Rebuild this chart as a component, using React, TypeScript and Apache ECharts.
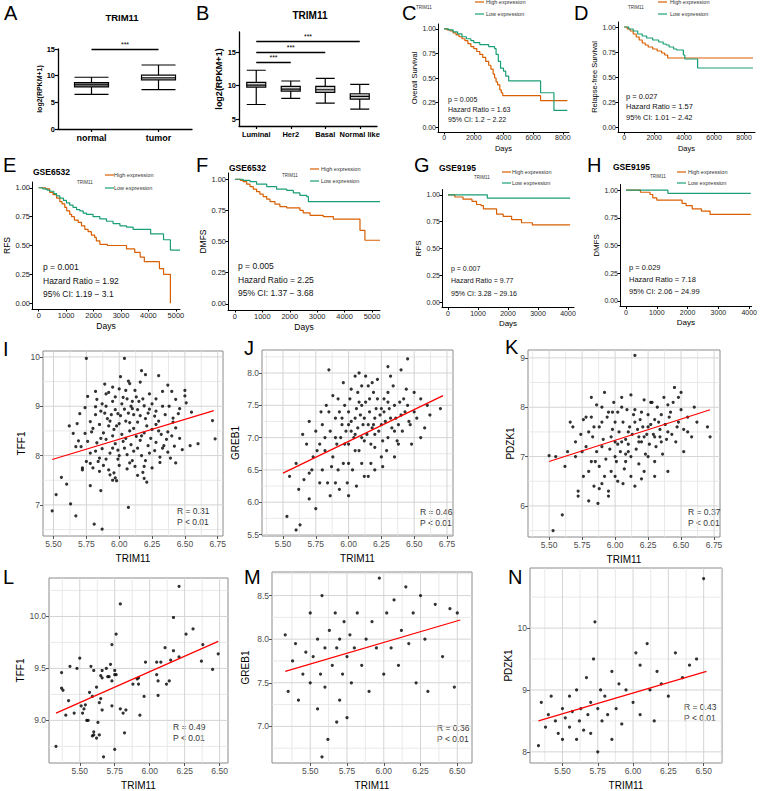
import React, { useEffect, useRef } from "react";
import * as echarts from "echarts";

const FONT = "'Liberation Sans', Arial, Helvetica, sans-serif";
const ORANGE = "#D95F02";
const GREEN = "#1B9E77";

// ---------- A / B box plots ----------
const boxACategories = ["normal", "tumor"];
const boxAValues = [
  [6.5, 7.9, 8.3, 8.7, 9.7],
  [7.4, 9.2, 9.6, 10.1, 12.0],
];
const boxAFill = ["#8c8c8c", "#ffffff"];
const sigA = [["normal", "tumor", 15]];

const boxBCategories = ["Luminal", "Her2", "Basal", "Normal like"];
const boxBValues = [
  [7.2, 9.8, 10.1, 10.5, 12.3],
  [8.1, 9.2, 9.5, 9.9, 10.7],
  [7.4, 9.0, 9.4, 9.9, 11.1],
  [6.5, 8.0, 8.4, 8.8, 10.2],
];
const sigB = [
  ["Luminal", "Her2", 13.5],
  ["Luminal", "Basal", 15.0],
  ["Luminal", "Normal like", 16.6],
];

// ---------- survival curves [day, survival] ----------
const survCHigh = [[0,1],[200,0.99],[400,0.98],[600,0.96],[800,0.94],[1000,0.92],[1200,0.9],[1400,0.88],[1600,0.85],[1800,0.82],[2000,0.8],[2200,0.77],[2400,0.74],[2600,0.71],[2800,0.67],[3000,0.63],[3150,0.59],[3300,0.54],[3400,0.5],[3500,0.46],[3600,0.43],[3750,0.38],[3850,0.35],[3950,0.32],[6500,0.27],[8300,0.27]];
const survCLow = [[0,1],[300,0.99],[600,0.97],[900,0.95],[1200,0.92],[1500,0.9],[1800,0.88],[2000,0.86],[2400,0.84],[3000,0.82],[3400,0.8],[3500,0.74],[3650,0.67],[3800,0.6],[4000,0.57],[4150,0.52],[4350,0.47],[6500,0.35],[7400,0.17],[8300,0.17]];
const survDHigh = [[0,1],[200,0.98],[400,0.96],[600,0.93],[800,0.9],[1000,0.87],[1200,0.84],[1400,0.82],[1600,0.8],[1900,0.78],[2200,0.76],[2500,0.74],[2700,0.72],[2900,0.69],[8600,0.69]];
const survDLow = [[0,1],[300,0.98],[600,0.96],[900,0.93],[1200,0.91],[1500,0.89],[1900,0.87],[2300,0.85],[2600,0.83],[2800,0.82],[3000,0.8],[3300,0.78],[3500,0.77],[3950,0.72],[4050,0.68],[4900,0.59],[8600,0.59]];
const survEHigh = [[0,1],[250,0.99],[400,0.96],[520,0.94],[650,0.91],[770,0.88],[850,0.86],[950,0.83],[1020,0.8],[1130,0.77],[1200,0.75],[1300,0.72],[1440,0.7],[1560,0.67],[1680,0.64],[1800,0.62],[1920,0.59],[2040,0.57],[2100,0.54],[2230,0.51],[2500,0.5],[3200,0.47],[3500,0.44],[3700,0.4],[3850,0.36],[4400,0.3],[4550,0.25],[4800,0]];
const survELow = [[0,1],[150,0.99],[300,0.98],[400,0.97],[550,0.95],[650,0.93],[770,0.91],[900,0.89],[1010,0.87],[1130,0.85],[1250,0.83],[1380,0.81],[1500,0.8],[1620,0.78],[1740,0.77],[1980,0.75],[2230,0.73],[2470,0.71],[2710,0.69],[2960,0.67],[3200,0.66],[3440,0.64],[4080,0.6],[4550,0.55],[4800,0.46],[5150,0.46]];
const survFHigh = [[0,1],[200,0.99],[300,0.98],[430,0.96],[550,0.94],[670,0.92],[790,0.9],[910,0.88],[1030,0.86],[1160,0.84],[1280,0.82],[1460,0.8],[1640,0.78],[1890,0.77],[2370,0.75],[2490,0.73],[2740,0.71],[3220,0.7],[3590,0.68],[4560,0.59],[4740,0.51],[5290,0.51]];
const survFLow = [[0,1],[300,0.99],[550,0.98],[790,0.96],[1160,0.94],[1520,0.92],[1890,0.91],[2130,0.89],[2370,0.87],[2620,0.86],[2680,0.82],[5290,0.82]];
const survGHigh = [[0,1],[230,0.98],[500,0.96],[800,0.94],[950,0.91],[1100,0.9],[1180,0.87],[1620,0.82],[1840,0.8],[2120,0.77],[2450,0.74],[2810,0.72],[4070,0.72]];
const survGLow = [[0,1],[1310,0.97],[4070,0.97]];
const survHHigh = [[0,1],[470,0.98],[780,0.96],[870,0.93],[1000,0.91],[1820,0.88],[1950,0.86],[2150,0.83],[2450,0.81],[2730,0.78],[4050,0.78]];
const survHLow = [[0,1],[1360,0.97],[4050,0.97]];

const statsC = ["p = 0.005", "Hazard Ratio = 1.63", "95% CI: 1.2 \u2212 2.22"];
const statsD = ["p = 0.027", "Hazard Ratio = 1.57", "95% CI: 1.01 \u2212 2.42"];
const statsE = ["p = 0.001", "Hazard Ratio = 1.92", "95% CI: 1.19 \u2212 3.1"];
const statsF = ["p = 0.005", "Hazard Ratio = 2.25", "95% CI: 1.37 \u2212 3.68"];
const statsG = ["p = 0.007", "Hazard Ratio = 9.77", "95% CI: 3.28 \u2212 29.16"];
const statsH = ["p = 0.029", "Hazard Ratio = 7.18", "95% CI: 2.06 \u2212 24.99"];

const survYTicks = [0, 0.25, 0.5, 0.75, 1];
const survXTicksLong = [0, 2000, 4000, 6000, 8000];
const survXTicksE = [0, 1000, 2000, 3000, 4000, 5000];
const survXTicksG = [0, 1000, 2000, 3000, 4000];

// ---------- scatter plots [TRIM11, gene] ----------
const scatterI = [[5.75,9.97],[6.04,9.97],[6.17,9.72],[6.2,9.64],[6.3,9.62],[6.07,9.51],[6.08,9.46],[6.16,9.49],[6.37,9.43],[5.95,9.39],[5.92,9.28],[6.0,9.35],[6.05,9.32],[6.12,9.32],[6.33,9.3],[6.5,9.32],[6.5,9.21],[5.97,9.19],[6.03,9.18],[6.06,9.15],[6.13,9.19],[6.18,9.15],[5.83,9.14],[5.74,8.97],[5.82,8.99],[5.87,9.05],[5.9,9.0],[5.97,8.93],[6.04,8.94],[6.09,9.0],[6.14,8.93],[6.19,9.01],[6.23,8.94],[6.28,8.9],[6.33,9.0],[6.43,9.14],[6.51,9.07],[6.55,8.88],[5.82,8.83],[5.89,8.86],[5.94,8.83],[6.01,8.81],[6.07,8.86],[6.11,8.83],[6.16,8.81],[6.22,8.86],[6.27,8.8],[6.35,8.83],[6.41,8.76],[5.68,8.65],[6.71,8.71],[5.78,8.69],[5.85,8.63],[5.93,8.7],[5.98,8.6],[6.08,8.67],[6.14,8.68],[6.21,8.6],[6.28,8.63],[6.41,8.68],[5.79,8.48],[5.88,8.46],[5.96,8.53],[6.02,8.43],[6.08,8.5],[6.13,8.39],[6.19,8.46],[6.25,8.53],[6.32,8.43],[6.37,8.48],[6.43,8.56],[5.76,8.29],[5.83,8.26],[5.9,8.33],[5.97,8.24],[6.03,8.29],[6.09,8.22],[6.16,8.31],[6.22,8.2],[6.28,8.27],[6.36,8.33],[6.42,8.19],[6.48,8.12],[6.54,8.2],[6.6,8.24],[6.73,8.34],[5.67,8.18],[5.71,8.18],[5.82,8.09],[5.87,8.14],[5.93,8.05],[5.99,8.11],[6.06,8.02],[6.11,8.09],[6.17,8.0],[6.23,8.05],[6.31,7.97],[6.37,8.07],[6.43,7.85],[5.75,7.88],[5.84,7.88],[5.9,7.93],[5.99,7.93],[6.06,7.73],[6.12,7.78],[6.19,7.78],[6.31,7.86],[5.72,7.75],[5.72,7.71],[5.78,7.84],[5.85,7.68],[5.92,7.71],[5.93,7.61],[5.95,7.5],[5.98,7.49],[6.18,7.66],[6.19,7.54],[6.21,7.46],[5.56,7.56],[5.6,7.42],[5.78,7.39],[5.86,7.29],[5.52,7.21],[5.63,7.02],[6.07,6.95],[5.49,6.88],[5.67,6.78],[5.81,6.61],[5.87,6.51],[5.86,8.9],[5.91,8.75],[5.95,9.1],[5.99,8.85],[6.02,9.05],[6.05,8.7],[6.1,8.95],[6.15,9.1],[6.2,8.75],[6.25,9.05],[6.3,8.7],[6.38,9.0],[6.45,8.85],[5.8,8.55],[5.86,8.35],[5.92,8.6],[5.95,8.4],[6.0,8.65],[6.05,8.35],[6.11,8.55],[6.17,8.4],[6.24,8.35],[6.3,8.5],[6.34,8.2],[6.4,8.4],[6.46,8.35],[5.78,8.05],[5.85,7.95],[5.95,8.15],[6.0,8.0],[6.04,8.15],[6.1,7.9],[6.14,8.15],[6.2,7.9],[6.27,8.1],[6.33,8.15],[6.39,7.95],[5.69,8.3],[5.74,8.45],[5.8,7.75],[5.88,7.8],[5.96,7.65],[5.97,7.55],[6.0,7.8],[6.08,7.85],[6.14,7.6],[6.25,7.75],[5.65,8.45],[5.62,8.6],[5.7,8.85],[5.76,9.2],[5.82,9.3],[5.89,9.45],[6.01,9.6],[6.1,9.1],[6.23,9.25],[6.4,9.3],[5.9,9.25],[6.28,9.15],[6.46,8.95]];
const scatterJ = [[5.55,6.4],[5.6,6.6],[5.62,6.2],[5.68,6.9],[5.7,6.45],[5.73,6.7],[5.75,7.1],[5.78,6.3],[5.8,7.2],[5.82,6.8],[5.85,7.4],[5.87,6.55],[5.9,7.0],[5.92,7.6],[5.93,6.2],[5.95,7.2],[5.97,6.9],[6.0,7.4],[6.0,6.6],[6.02,7.1],[6.05,7.3],[6.05,6.8],[6.07,7.7],[6.1,7.0],[6.1,7.5],[6.12,6.4],[6.15,7.2],[6.15,7.8],[6.17,6.9],[6.2,7.3],[6.2,7.05],[6.22,7.6],[6.25,7.2],[6.25,6.7],[6.27,7.4],[6.3,7.0],[6.3,7.7],[6.32,7.3],[6.35,7.1],[6.35,7.5],[6.38,6.9],[6.4,7.35],[6.42,7.6],[6.45,8.22],[6.47,7.2],[6.5,7.4],[6.55,7.0],[6.6,7.5],[6.7,7.45],[5.85,8.05],[6.3,8.1],[6.05,7.95],[5.9,6.3],[6.0,6.1],[6.2,6.5],[5.7,6.05],[5.75,5.9],[5.53,5.78],[5.6,5.57],[5.63,5.65],[5.78,6.9],[5.8,6.5],[5.82,7.0],[5.84,6.3],[5.86,7.1],[5.88,6.7],[5.9,7.3],[5.91,6.9],[5.93,7.4],[5.94,7.0],[5.96,6.6],[5.97,7.5],[5.98,7.1],[6.0,6.9],[6.01,7.6],[6.02,7.25],[6.03,6.5],[6.04,7.0],[6.06,7.45],[6.07,7.15],[6.08,6.8],[6.09,7.35],[6.1,7.8],[6.11,7.2],[6.12,6.95],[6.13,7.55],[6.14,7.05],[6.16,7.4],[6.17,6.6],[6.18,7.15],[6.19,7.7],[6.2,6.85],[6.21,7.45],[6.23,7.1],[6.24,7.35],[6.26,6.95],[6.27,7.6],[6.28,7.25],[6.29,6.8],[6.31,7.45],[6.33,7.15],[6.34,7.8],[6.36,7.3],[6.37,6.95],[6.39,7.55],[6.41,7.1],[6.43,7.4],[6.44,7.75],[6.46,7.25],[6.48,6.9],[6.52,7.3],[6.55,7.6],[6.58,7.15],[6.62,7.35],[5.96,7.85],[6.08,8.0],[6.22,7.9],[6.4,8.05],[6.13,7.95],[5.99,6.3],[6.06,6.25],[6.15,6.4],[5.86,6.1],[5.92,6.5],[6.1,6.6],[6.26,6.55],[6.35,6.7],[5.72,6.5],[5.76,6.8],[5.66,6.35],[5.7,7.25],[5.65,7.05],[6.02,7.75],[6.18,7.85],[6.32,7.95],[5.88,7.65],[5.83,7.5],[5.79,7.4],[6.05,7.05],[6.12,7.3],[6.19,7.2],[6.25,7.45],[6.0,7.2],[5.95,7.3],[6.08,7.55],[6.16,7.6],[6.3,7.55],[6.38,7.2],[6.45,7.5],[6.5,7.7]];
const scatterK = [[5.5,7.02],[5.55,7.0],[5.53,5.5],[5.6,5.82],[5.62,6.8],[5.68,7.6],[5.7,7.3],[5.72,6.3],[5.72,6.2],[5.75,7.1],[5.78,7.8],[5.8,6.7],[5.8,6.1],[5.83,7.4],[5.85,6.9],[5.87,6.05],[5.88,7.6],[5.9,7.2],[5.92,6.6],[5.95,7.9],[5.95,6.3],[5.97,7.4],[6.0,7.0],[6.0,7.7],[6.02,6.5],[6.05,7.3],[6.05,8.0],[6.08,6.9],[6.1,7.5],[6.1,7.1],[6.12,6.6],[6.15,9.05],[6.15,7.7],[6.18,7.3],[6.2,6.55],[6.2,7.9],[6.22,7.4],[6.25,7.0],[6.25,7.6],[6.28,8.1],[6.3,7.4],[6.3,6.9],[6.33,7.7],[6.35,7.3],[6.37,8.2],[6.4,7.5],[6.4,6.7],[6.42,7.9],[6.45,8.4],[6.47,7.6],[6.5,7.95],[6.52,7.1],[6.55,7.5],[6.6,8.0],[6.7,7.6],[6.72,7.4],[5.82,8.2],[5.9,8.0],[5.78,7.2],[5.8,7.5],[5.82,6.9],[5.84,7.6],[5.86,7.1],[5.88,6.8],[5.9,7.7],[5.91,7.35],[5.93,6.95],[5.94,7.8],[5.96,7.15],[5.97,6.7],[5.98,7.55],[6.0,7.3],[6.01,6.9],[6.02,7.9],[6.03,7.5],[6.04,7.1],[6.06,7.7],[6.07,6.75],[6.08,7.35],[6.09,7.95],[6.1,7.25],[6.11,7.6],[6.12,7.0],[6.13,7.45],[6.14,7.85],[6.16,7.15],[6.17,7.55],[6.18,6.85],[6.19,7.75],[6.2,7.3],[6.21,7.6],[6.23,7.05],[6.24,7.45],[6.25,7.85],[6.26,7.25],[6.27,7.65],[6.29,7.45],[6.3,7.75],[6.31,7.2],[6.32,8.0],[6.34,7.55],[6.35,7.85],[6.36,7.05],[6.38,7.65],[6.39,7.35],[6.41,7.8],[6.43,7.45],[6.44,8.1],[6.46,7.3],[6.48,7.7],[6.5,8.3],[6.52,7.55],[6.55,7.8],[6.58,7.4],[6.62,7.7],[6.48,8.2],[6.4,8.05],[6.22,8.15],[6.05,8.2],[5.92,8.3],[5.76,7.75],[5.74,7.45],[5.7,7.0],[5.66,7.7],[5.64,7.1],[5.76,6.6],[5.84,6.4],[5.9,6.45],[5.95,6.2],[6.0,6.6],[6.06,6.45],[6.15,6.4],[6.22,6.7],[6.3,6.6],[5.88,6.35],[5.99,8.1],[6.12,8.25],[6.27,8.1],[6.08,7.05],[6.18,7.4],[6.34,7.4],[6.02,7.25],[5.98,7.9],[6.15,7.95],[5.82,7.8],[5.86,8.05]];
const scatterL = [[5.33,8.75],[5.37,9.46],[5.37,9.31],[5.38,9.29],[5.4,9.05],[5.42,9.19],[5.43,9.52],[5.46,9.07],[5.48,9.5],[5.5,9.6],[5.51,9.14],[5.52,9.07],[5.53,9.11],[5.54,9.15],[5.55,9.0],[5.56,9.0],[5.57,9.27],[5.58,9.52],[5.59,9.23],[5.6,9.48],[5.59,8.85],[5.6,8.89],[5.6,8.86],[5.62,9.32],[5.62,8.83],[5.63,8.98],[5.64,8.86],[5.64,9.17],[5.65,9.43],[5.65,9.21],[5.66,9.1],[5.66,9.41],[5.66,9.48],[5.67,8.65],[5.69,9.5],[5.7,9.42],[5.71,9.42],[5.72,9.54],[5.73,9.73],[5.73,9.38],[5.73,9.14],[5.75,8.72],[5.75,9.44],[5.75,9.48],[5.76,9.83],[5.76,9.44],[5.79,10.12],[5.79,9.11],[5.81,9.07],[5.82,8.88],[5.83,9.1],[5.88,9.35],[5.91,9.4],[5.92,9.41],[5.92,9.35],[5.93,9.05],[5.96,9.23],[5.97,9.56],[6.05,9.44],[6.05,9.56],[6.06,9.38],[6.06,9.24],[6.08,9.56],[6.11,9.7],[6.12,9.35],[6.14,9.38],[6.15,9.58],[6.17,9.67],[6.17,9.99],[6.21,9.61],[6.21,10.29],[6.26,9.83],[6.31,9.88],[6.37,9.57],[6.38,9.73],[6.45,9.49],[6.49,9.64]];
const scatterM = [[5.33,8.05],[5.35,7.4],[5.38,7.75],[5.4,7.95],[5.42,7.3],[5.45,7.6],[5.47,7.85],[5.5,7.5],[5.5,8.3],[5.52,7.8],[5.55,7.2],[5.55,8.0],[5.57,7.6],[5.58,8.5],[5.6,7.45],[5.6,7.9],[5.62,6.85],[5.63,8.1],[5.65,7.7],[5.67,8.3],[5.68,7.9],[5.7,7.3],[5.7,8.0],[5.72,7.6],[5.73,8.2],[5.75,7.8],[5.75,7.1],[5.77,8.05],[5.78,7.5],[5.8,7.9],[5.82,8.3],[5.85,7.7],[5.88,8.0],[5.9,7.4],[5.92,8.2],[5.95,7.9],[5.97,8.7],[6.0,7.6],[6.02,8.3],[6.05,7.9],[6.07,8.45],[6.1,7.7],[6.12,8.1],[6.15,8.6],[6.17,7.95],[6.2,8.3],[6.22,7.5],[6.25,8.5],[6.28,8.0],[6.3,7.4],[6.35,8.4],[6.4,7.8],[6.45,8.35],[6.48,7.45],[6.5,8.3],[5.58,6.65],[5.68,7.05]];
const scatterN = [[5.33,8.1],[5.35,8.8],[5.38,8.4],[5.4,8.6],[5.42,8.9],[5.45,8.5],[5.47,8.3],[5.5,8.7],[5.5,8.2],[5.52,8.55],[5.55,8.9],[5.55,8.4],[5.57,8.65],[5.6,8.2],[5.6,9.0],[5.62,8.5],[5.63,8.7],[5.65,8.35],[5.67,9.2],[5.68,8.6],[5.7,8.8],[5.7,8.3],[5.72,9.5],[5.73,10.1],[5.75,8.7],[5.75,8.0],[5.77,9.0],[5.78,8.5],[5.8,8.9],[5.82,8.6],[5.85,9.3],[5.88,8.7],[5.9,9.1],[5.92,8.45],[5.95,9.0],[6.0,8.8],[6.02,9.6],[6.05,9.4],[6.05,8.6],[6.1,9.75],[6.12,9.0],[6.15,8.5],[6.17,9.3],[6.2,9.1],[6.25,8.9],[6.3,9.6],[6.35,9.2],[6.4,9.4],[6.45,9.5],[6.5,10.8],[5.85,8.2]];

// regression line end points
const fitI = [[5.49, 7.92], [6.72, 8.91]];
const fitJ = [[5.5, 6.45], [6.72, 7.65]];
const fitK = [[5.5, 6.9], [6.72, 7.95]];
const fitL = [[5.33, 9.07], [6.49, 9.76]];
const fitM = [[5.33, 7.63], [6.52, 8.22]];
const fitN = [[5.33, 8.5], [6.52, 9.3]];

const rpI = ["R = 0.31", "P < 0.01"];
const rpJ = ["R = 0.46", "P < 0.01"];
const rpK = ["R = 0.37", "P < 0.01"];
const rpL = ["R = 0.49", "P < 0.01"];
const rpM = ["R = 0.36", "P < 0.01"];
const rpN = ["R = 0.43", "P < 0.01"];

const xTicksBig = [5.5, 5.75, 6.0, 6.25, 6.5, 6.75];
const xTicksSmall = [5.5, 5.75, 6.0, 6.25, 6.5];

function buildOption() {
  const grid: any[] = [];
  const xAxis: any[] = [];
  const yAxis: any[] = [];
  const series: any[] = [];
  const graphic: any[] = [];

  const txt = (text: string, x: number, y: number, o: any = {}) => {
    graphic.push({
      type: "text", x, y, silent: true, rotation: o.rot || 0,
      style: {
        text, fontSize: o.size || 10, fontFamily: FONT,
        fontWeight: o.bold ? "bold" : "normal", fill: o.color || "#000",
        textAlign: o.align || "left", textVerticalAlign: o.va || "middle",
      },
    });
  };

  // panel letters
  const letters: any[] = [["A", 4, 13], ["B", 196, 13], ["C", 402, 13], ["D", 574, 13], ["E", 3, 165], ["F", 196, 165], ["G", 414, 165], ["H", 587, 165], ["I", 3, 349], ["J", 244, 348], ["K", 505, 347], ["L", 3, 577], ["M", 244, 577], ["N", 508, 577]];
  letters.forEach(([t, x, y]) => txt(t, x, y, { size: 20 }));

  // ---------- box plots ----------
  const boxPanels = [
    { cats: boxACategories, vals: boxAValues, fills: boxAFill, sig: sigA, grid: { left: 58, top: 49, width: 134, height: 80 }, min: 0, max: 15, ticks: [0, 5, 10, 15], boxW: 34, title: [122, 17, 9.5], yName: 7, catFont: 9, tickFont: 7.5, nameGap: 13 },
    { cats: boxBCategories, vals: boxBValues, fills: boxBValues.map(() => "#d0d0d0"), sig: sigB, grid: { left: 239, top: 32, width: 138, height: 94 }, min: 4, max: 18, ticks: [5, 10, 15], boxW: 19, title: [310, 15, 10], yName: 9, catFont: 7.5, tickFont: 7.5, nameGap: 12 },
  ];
  boxPanels.forEach((p) => {
    const gi = grid.length;
    grid.push(p.grid);
    xAxis.push({
      type: "category", gridIndex: gi, data: p.cats,
      axisLine: { lineStyle: { color: "#000", width: 1.3 } },
      axisTick: { show: true, alignWithLabel: true, length: 3, lineStyle: { color: "#000", width: 1.2 } },
      axisLabel: { fontSize: p.catFont, fontWeight: "bold", color: "#000", margin: 4, fontFamily: FONT, interval: 0 },
    });
    yAxis.push({
      type: "value", gridIndex: gi, min: p.min, max: p.max,
      axisLine: { show: true, onZero: false, lineStyle: { color: "#000", width: 1.3 } },
      axisTick: { show: true, length: 3, customValues: p.ticks, lineStyle: { color: "#000", width: 1.2 } },
      axisLabel: { customValues: p.ticks, fontSize: p.tickFont, fontWeight: "bold", color: "#000", margin: 3, fontFamily: FONT },
      splitLine: { show: false },
      name: "log2(RPKM+1)", nameLocation: "middle", nameGap: p.nameGap, nameRotate: 90,
      nameTextStyle: { fontSize: p.yName, fontWeight: "bold", color: "#000", fontFamily: FONT },
    });
    series.push({
      type: "boxplot", xAxisIndex: gi, yAxisIndex: gi, boxWidth: [p.boxW, p.boxW],
      itemStyle: { borderColor: "#000", borderWidth: 1.2 },
      data: p.vals.map((v, i) => ({ value: v, itemStyle: { color: p.fills[i], borderColor: "#000", borderWidth: 1.2 } })),
      markLine: {
        silent: true, symbol: ["none", "none"],
        lineStyle: { color: "#000", width: 1.3, type: "solid" },
        label: { show: true, position: "insideMiddleTop", formatter: "***", fontSize: 7, color: "#000", distance: 1, fontFamily: FONT },
        emphasis: { disabled: true },
        data: p.sig.map((s: any) => [{ coord: [s[0], s[2]] }, { coord: [s[1], s[2]] }]),
      },
    });
    txt("TRIM11", p.title[0], p.title[1], { size: p.title[2], bold: true, align: "center" });
  });

  // ---------- survival panels ----------
  const survPanels = [
    { high: survCHigh, low: survCLow, stats: statsC, grid: { left: 438, top: 24, width: 131, height: 108 }, x: [-415, 8415], xt: survXTicksLong, yName: "Overall Survival", tick: 7, stat: 7, statPos: [448, 99, 10], leg: { t: [416, 7], lx: 475, tx: 486, y1: 2, y2: 14 }, lab: 7.5, title: null },
    { high: survDHigh, low: survDLow, stats: statsD, grid: { left: 618, top: 22, width: 137, height: 110 }, x: [-416, 8733], xt: survXTicksLong, yName: "Relapse-free Survival", tick: 7, stat: 7.5, statPos: [626, 96, 10.5], leg: { t: [628, 7], lx: 658, tx: 670, y1: 2, y2: 14 }, lab: 7.5, title: null },
    { high: survEHigh, low: survELow, stats: statsE, grid: { left: 32, top: 182, width: 148, height: 127 }, x: [-245, 5150], xt: survXTicksE, yName: "RFS", tick: 7.5, stat: 8.5, statPos: [43, 267, 13.5], leg: { t: [77, 182], lx: 105, tx: 114, y1: 175, y2: 188 }, lab: 8.5, title: ["GSE6532", 33, 172] },
    { high: survFHigh, low: survFLow, stats: statsF, grid: { left: 228, top: 173, width: 152, height: 137 }, x: [-252, 5290], xt: survXTicksE, yName: "DMFS", tick: 7.5, stat: 8.5, statPos: [238, 266, 13.5], leg: { t: [282, 175], lx: 310, tx: 321, y1: 169, y2: 181 }, lab: 8.5, title: ["GSE6532", 229, 168] },
    { high: survGHigh, low: survGLow, stats: statsG, grid: { left: 442, top: 189.5, width: 132, height: 118 }, x: [-200, 4200], xt: survXTicksG, yName: "RFS", tick: 7, stat: 7, statPos: [451, 268, 12.5], leg: { t: [474, 177], lx: 502, tx: 512, y1: 172, y2: 183 }, lab: 8, title: ["GSE9195", 439, 168] },
    { high: survHHigh, low: survHLow, stats: statsH, grid: { left: 620, top: 184.5, width: 132, height: 122 }, x: [-194, 4080], xt: survXTicksG, yName: "DMFS", tick: 7, stat: 7.5, statPos: [629, 267, 12], leg: { t: [650, 176], lx: 677, tx: 688, y1: 172, y2: 183 }, lab: 8, title: ["GSE9195", 613, 167] },
  ];
  survPanels.forEach((p) => {
    const gi = grid.length;
    grid.push(p.grid);
    xAxis.push({
      type: "value", gridIndex: gi, min: p.x[0], max: p.x[1],
      axisLine: { onZero: false, lineStyle: { color: "#000", width: 1 } },
      axisTick: { customValues: p.xt, length: 2.5, lineStyle: { color: "#000" } },
      axisLabel: { customValues: p.xt, fontSize: p.tick, color: "#222", margin: 2, fontFamily: FONT, formatter: (v: number) => String(v) },
      splitLine: { show: false },
      name: "Days", nameLocation: "middle", nameGap: p.tick + 5, nameTextStyle: { fontSize: p.lab, color: "#000", fontFamily: FONT },
    });
    yAxis.push({
      type: "value", gridIndex: gi, min: -0.05, max: 1.05,
      axisLine: { onZero: false, lineStyle: { color: "#000", width: 1 } },
      axisTick: { customValues: survYTicks, length: 2.5, lineStyle: { color: "#000" } },
      axisLabel: { customValues: survYTicks, fontSize: p.tick, color: "#222", margin: 2, fontFamily: FONT, formatter: (v: number) => v.toFixed(2) },
      splitLine: { show: false },
      name: p.yName, nameLocation: "middle", nameGap: p.tick * 2.2 + 4, nameRotate: 90,
      nameTextStyle: { fontSize: p.lab, color: "#000", fontFamily: FONT },
    });
    [[p.high, ORANGE], [p.low, GREEN]].forEach(([d, c]: any) => {
      series.push({ type: "line", step: "end", xAxisIndex: gi, yAxisIndex: gi, data: d, showSymbol: false, symbol: "none", lineStyle: { color: c, width: 1.2 }, itemStyle: { color: c }, silent: true });
    });
    p.stats.forEach((s: string, i: number) => txt(s, p.statPos[0], p.statPos[1] + i * p.statPos[2], { size: p.stat, color: "#111" }));
    // legend
    txt("TRIM11", p.leg.t[0], p.leg.t[1], { size: 4.5, color: "#333" });
    [[p.leg.y1, ORANGE, "High expression"], [p.leg.y2, GREEN, "Low expression"]].forEach(([y, c, t]: any) => {
      graphic.push({ type: "line", silent: true, shape: { x1: p.leg.lx, y1: y, x2: p.leg.lx + 9, y2: y }, style: { stroke: c, lineWidth: 1.2 } });
      txt(t, p.leg.tx, y, { size: 5.5, color: "#333" });
    });
    if (p.title) txt(p.title[0] as string, p.title[1] as number, p.title[2] as number, { size: 8.5, bold: true });
  });

  // ---------- scatter panels ----------
  const scatterPanels = [
    { pts: scatterI, fit: fitI, rp: rpI, yName: "TFF1", grid: { left: 43, top: 351, width: 180, height: 185 }, x: [5.42, 6.79], y: [6.37, 10.12], xt: xTicksBig, yt: [7, 8, 9, 10], yDec: 0, rpPos: [177, 511] },
    { pts: scatterJ, fit: fitJ, rp: rpJ, yName: "GREB1", grid: { left: 262, top: 350, width: 191, height: 186 }, x: [5.34, 6.796], y: [5.477, 8.356], xt: xTicksBig, yt: [5.5, 6.0, 6.5, 7.0, 7.5, 8.0], yDec: 1, rpPos: [420, 512] },
    { pts: scatterK, fit: fitK, rp: rpK, yName: "PDZK1", grid: { left: 528, top: 350, width: 192, height: 187 }, x: [5.34, 6.795], y: [5.37, 9.16], xt: xTicksBig, yt: [6, 7, 8, 9], yDec: 0, rpPos: [688, 512] },
    { pts: scatterL, fit: fitL, rp: rpL, yName: "TFF1", grid: { left: 49, top: 578, width: 179, height: 187 }, x: [5.28, 6.56], y: [8.59, 10.37], xt: xTicksSmall, yt: [9.0, 9.5, 10.0], yDec: 1, rpPos: [173, 727] },
    { pts: scatterM, fit: fitM, rp: rpM, yName: "GREB1", grid: { left: 272, top: 572, width: 200, height: 193 }, x: [5.24, 6.6], y: [6.58, 8.77], xt: xTicksSmall, yt: [7.0, 7.5, 8.0, 8.5], yDec: 1, rpPos: [437, 728] },
    { pts: scatterN, fit: fitN, rp: rpN, yName: "PDZK1", grid: { left: 530, top: 568, width: 192, height: 195 }, x: [5.27, 6.63], y: [7.82, 10.97], xt: xTicksSmall, yt: [8, 9, 10], yDec: 0, rpPos: [684, 707] },
  ];
  scatterPanels.forEach((p) => {
    const gi = grid.length;
    grid.push({ ...p.grid, show: true, borderColor: "#8a8a8a", borderWidth: 1, backgroundColor: "#fff" });
    const xStep = p.xt[1] - p.xt[0];
    const yStep = p.yt[1] - p.yt[0];
    const xMinor: number[] = [];
    const yMinor: number[] = [];
    for (let v = p.xt[0] - xStep / 2; v < p.x[1]; v += xStep) if (v > p.x[0]) xMinor.push(v);
    for (let v = p.yt[0] - yStep / 2; v < p.y[1]; v += yStep) if (v > p.y[0]) yMinor.push(v);
    xAxis.push({
      type: "value", gridIndex: gi, min: p.x[0], max: p.x[1],
      axisLine: { show: false, onZero: false },
      axisTick: { show: true, customValues: p.xt, length: 3, lineStyle: { color: "#555" } },
      axisLabel: { customValues: p.xt, fontSize: 8.5, color: "#4d4d4d", margin: 3, fontFamily: FONT, formatter: (v: number) => v.toFixed(2) },
      splitLine: { show: false },
      name: "TRIM11", nameLocation: "middle", nameGap: 17, nameTextStyle: { fontSize: 10, color: "#000", fontFamily: FONT },
    });
    yAxis.push({
      type: "value", gridIndex: gi, min: p.y[0], max: p.y[1],
      axisLine: { show: false, onZero: false },
      axisTick: { show: true, customValues: p.yt, length: 3, lineStyle: { color: "#555" } },
      axisLabel: { customValues: p.yt, fontSize: 8.5, color: "#4d4d4d", margin: 3, fontFamily: FONT, formatter: (v: number) => v.toFixed(p.yDec) },
      splitLine: { show: false },
      name: p.yName, nameLocation: "middle", nameGap: p.yDec ? 22 : 13, nameRotate: 90, nameTextStyle: { fontSize: 10, color: "#000", fontFamily: FONT },
    });
    // grid lines as broken line series (behind the points)
    const gridLineData = (xs: number[], ys: number[]) => {
      const d: any[] = [];
      xs.forEach((v) => { d.push([v, p.y[0]], [v, p.y[1]], ["-", "-"]); });
      ys.forEach((v) => { d.push([p.x[0], v], [p.x[1], v], ["-", "-"]); });
      return d;
    };
    series.push({ type: "line", xAxisIndex: gi, yAxisIndex: gi, data: gridLineData(xMinor, yMinor), showSymbol: false, symbol: "none", connectNulls: false, lineStyle: { color: "#e3e3e3", width: 0.8 }, silent: true, z: 1 });
    series.push({ type: "line", xAxisIndex: gi, yAxisIndex: gi, data: gridLineData(p.xt, p.yt), showSymbol: false, symbol: "none", connectNulls: false, lineStyle: { color: "#d4d4d4", width: 1 }, silent: true, z: 1 });
    series.push({ type: "scatter", xAxisIndex: gi, yAxisIndex: gi, data: p.pts, symbolSize: 3.2, itemStyle: { color: "#000" }, silent: true, z: 3 });
    series.push({ type: "line", xAxisIndex: gi, yAxisIndex: gi, data: p.fit, showSymbol: false, symbol: "none", lineStyle: { color: "#ff0000", width: 1.2 }, silent: true, z: 4 });
    txt(p.rp[0], p.rpPos[0], p.rpPos[1], { size: 8.5, color: "#333" });
    txt(p.rp[1], p.rpPos[0], p.rpPos[1] + 11, { size: 8.5, color: "#333" });
  });

  return { animation: false, backgroundColor: "#fff", textStyle: { fontFamily: FONT }, grid, xAxis, yAxis, series, graphic };
}

export default function App() {
  const ref = useRef<HTMLDivElement>(null);
  useEffect(() => {
    const chart = echarts.init(ref.current as HTMLDivElement, null, { renderer: "svg" });
    chart.setOption(buildOption() as any);
    return () => chart.dispose();
  }, []);
  return <div ref={ref} style={{ position: "absolute", left: 0, top: 0, width: 760, height: 791, background: "#fff" }} />;
}
